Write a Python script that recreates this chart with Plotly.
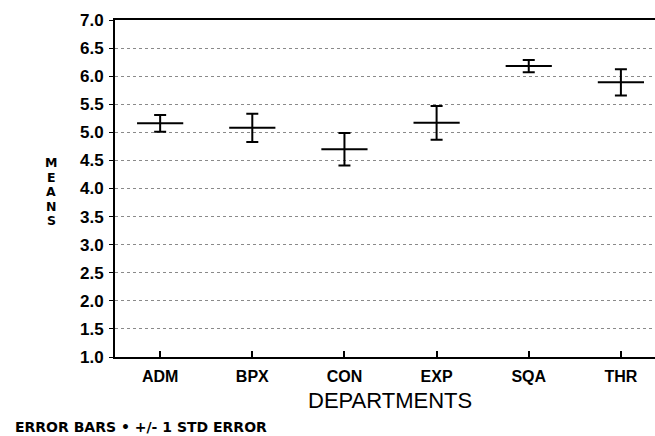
import plotly.graph_objects as go

departments = ["ADM", "BPX", "CON", "EXP", "SQA", "THR"]
means = [5.16, 5.08, 4.70, 5.17, 6.18, 5.89]
std_errors = [0.15, 0.25, 0.29, 0.30, 0.11, 0.235]
y_ticks = [1.0, 1.5, 2.0, 2.5, 3.0, 3.5, 4.0, 4.5, 5.0, 5.5, 6.0, 6.5, 7.0]
y_title_letters = ["M", "E", "A", "N", "S"]

FONT = "Liberation Sans"

fig = go.Figure()
fig.add_trace(go.Scatter(
    x=departments,
    y=means,
    mode="markers",
    marker=dict(symbol="line-ew", size=33, line=dict(width=2, color="black"), color="black"),
    error_y=dict(type="data", array=std_errors, visible=True, color="black", thickness=2, width=6),
    showlegend=False,
    hoverinfo="skip",
))

W, H = 655, 436
ml, mr, mt, mb = 115, 0, 20, 79
pw, ph = W - ml - mr, H - mt - mb

annotations = []
# vertical stacked y-axis title
for i, ch in enumerate(y_title_letters):
    ypix = 162.5 + i * 14.6
    annotations.append(dict(
        text=ch, xref="paper", yref="paper",
        x=(51 - ml) / pw, y=(H - mb - ypix) / ph,
        xanchor="center", yanchor="middle", showarrow=False,
        font=dict(family="DejaVu Sans", size=12.5, color="black", weight="bold"),
    ))
# x axis title
annotations.append(dict(
    text="DEPARTMENTS", xref="paper", yref="paper",
    x=(390 - ml) / pw, y=(H - mb - 400) / ph,
    xanchor="center", yanchor="middle", showarrow=False,
    font=dict(family=FONT, size=22, color="black"),
))
# footnote
annotations.append(dict(
    text="ERROR BARS • +/- 1 STD ERROR", xref="paper", yref="paper",
    x=(13 - ml) / pw, y=(H - mb - 427) / ph,
    xanchor="left", yanchor="middle", showarrow=False,
    font=dict(family="DejaVu Sans", size=14, color="black", weight="bold"),
))

fig.update_layout(
    width=W, height=H,
    margin=dict(l=ml, r=mr, t=mt, b=mb, pad=0),
    paper_bgcolor="white", plot_bgcolor="white",
    annotations=annotations,
    xaxis=dict(
        type="category", categoryorder="array", categoryarray=departments,
        range=[-0.49, 5.37],
        showline=True, linecolor="black", linewidth=2, mirror=True,
        ticks="inside", ticklen=6, tickwidth=1.5, tickcolor="black",
        showgrid=False, zeroline=False,
        tickfont=dict(family=FONT, size=16, color="black", weight="bold"),
        ticklabelstandoff=4,
    ),
    yaxis=dict(
        range=[1, 7], tickvals=y_ticks, ticktext=[f"{v:.1f}" for v in y_ticks],
        showline=True, linecolor="black", linewidth=2,
        ticks="outside", ticklen=4, tickwidth=1, tickcolor="black",
        showgrid=True, gridcolor="#8a8a8a", gridwidth=1, griddash="dot",
        zeroline=False,
        tickfont=dict(family=FONT, size=17, color="black", weight="bold"),
        ticklabelstandoff=2,
    ),
)

fig.write_html("out.html")
